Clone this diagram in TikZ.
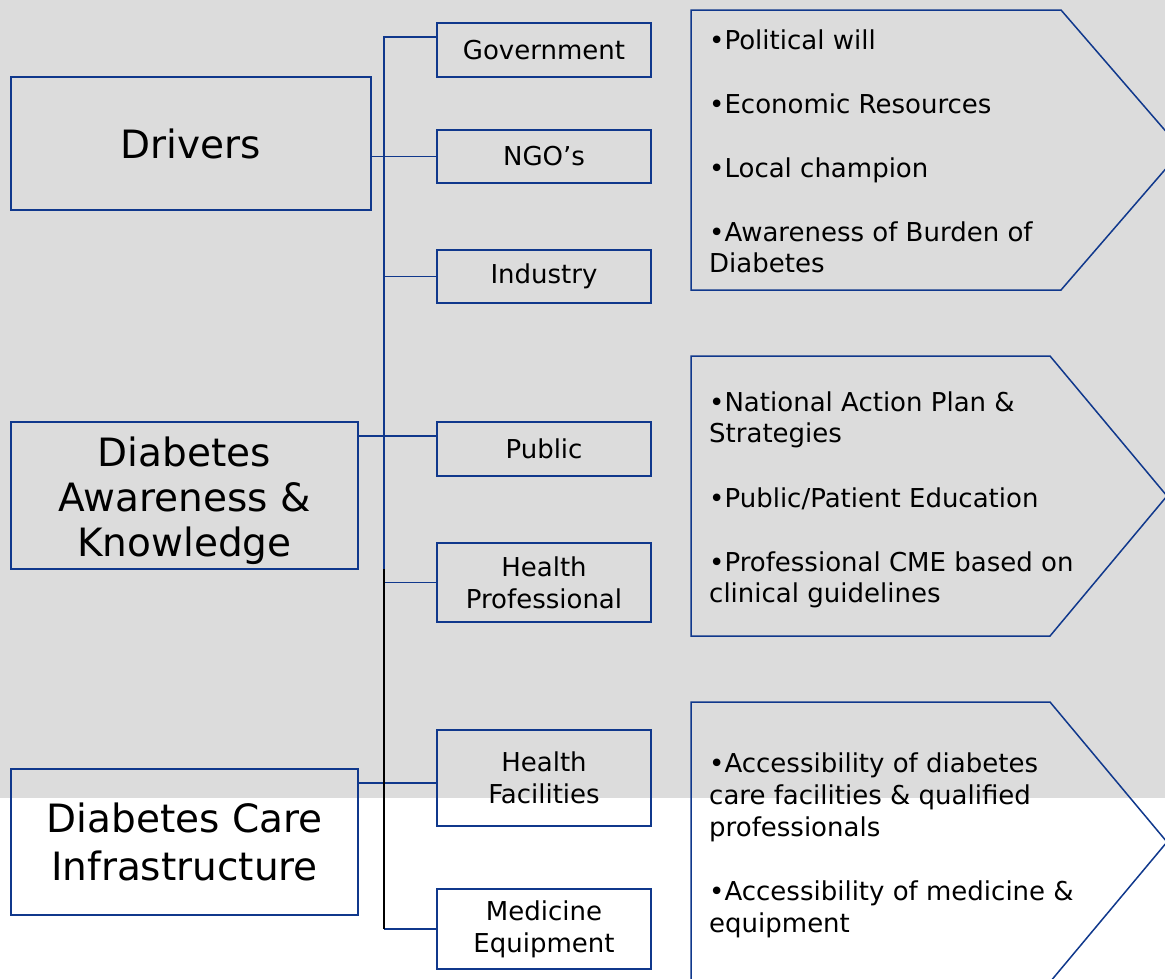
\documentclass[tikz,border=0pt]{standalone}
\usepackage{fontspec}
\setmainfont{DejaVu Sans}
\usetikzlibrary{calc}
\definecolor{navy}{RGB}{16,56,140}
\definecolor{panel}{RGB}{220,220,220}
\begin{document}
\begin{tikzpicture}[x=1pt,y=-1pt,
  catbox/.style={draw=navy,line width=1.8pt,inner sep=0pt,align=center,
    font=\fontsize{39}{46}\selectfont},
  subbox/.style={draw=navy,line width=1.8pt,inner sep=0pt,align=center,
    minimum width=214,font=\fontsize{26}{32}\selectfont},
  link/.style={draw=navy,line width=1.7pt},
  trunk/.style={draw=black,line width=1.7pt},
  chev/.style={draw=navy,line width=1.5pt,line join=miter},
  item/.style={anchor=base west,inner sep=0pt,font=\fontsize{26}{32}\selectfont}]

% background panel and page frame
\fill[panel] (0,0) rectangle (1165,798);
\useasboundingbox (0,0) rectangle (1165,978);
\clip (0,0) rectangle (1165,978);

% main categories
\node[catbox,minimum width=360,minimum height=133] (drv) at (191,143.5) {Drivers};
\node[catbox,minimum width=347,minimum height=147,font=\fontsize{39}{45}\selectfont,
  text height=130pt] (awr) at (184.5,495.5)
  {Diabetes\\Awareness \&\\Knowledge};
\node[catbox,minimum width=347,minimum height=146,font=\fontsize{39}{48}\selectfont] (care) at (184.5,842)
  {Diabetes Care\\Infrastructure};

% stakeholders
\node[subbox,minimum height=54] (gov) at (544,50) {Government};
\node[subbox,minimum height=53] (ngo) at (544,156.5) {NGO’s};
\node[subbox,minimum height=53] (ind) at (544,276.5) {Industry};
\node[subbox,minimum height=54] (pub) at (544,449) {Public};
\node[subbox,minimum height=79] (hp) at (544,582.5) {Health\\Professional};
\node[subbox,minimum height=96] (hf) at (544,778) {Health\\Facilities};
\node[subbox,minimum height=80] (med) at (544,929) {Medicine\\Equipment};

% junction points on the trunk
\coordinate (j1) at (384,37);
\coordinate (j2) at (384,263);
\coordinate (j3) at (384,569);
\coordinate (p2) at (0,436);
\coordinate (p3) at (0,783);

% connectors
\draw[link] (gov.west |- j1) -- (j1) -- (j1 |- ind.west) -- (ind.west);
\draw[link] (drv.east |- ngo.west) -- (ngo.west);
\draw[link] (j2) -- (j2 |- hp.west) -- (hp.west);
\draw[link] (awr.east |- p2) -- (pub.west |- p2);
\draw[link] (care.east |- p3) -- (hf.west |- p3);
\draw[link] (j3 |- med.west) -- (med.west);
\draw[trunk] (j3) -- (j3 |- med.west);

% outcome chevrons
\draw[chev] (691,10) -- (1061,10) -- (1182,150) -- (1061,290) -- (691,290) -- cycle;
\draw[chev] (691,356) -- (1050,356) -- (1167,496) -- (1050,636) -- (691,636) -- cycle;
\draw[chev] (691,702) -- (1050,702) -- (1167,842) -- (1050,982) -- (691,982) -- cycle;

% chevron texts
\node[item] (a1) at (709,49) {•Political will};
\node[item] (a2) at (709,113) {•Economic Resources};
\node[item] (a3) at (709,177) {•Local champion};
\node[item] (a4) at (709,241) {•Awareness of Burden of};
\node[item] (a5) at (709,272) {Diabetes};

\node[item] (b1) at (709,411) {•National Action Plan \&};
\node[item] (b2) at (709,442) {Strategies};
\node[item] (b3) at (709,507) {•Public/Patient Education};
\node[item] (b4) at (709,571) {•Professional CME based on};
\node[item] (b5) at (709,602) {clinical guidelines};

\node[item] (c1) at (709,772) {•Accessibility of diabetes};
\node[item] (c2) at (709,804) {care facilities \& qualified};
\node[item] (c3) at (709,836) {professionals};
\node[item] (c4) at (709,900) {•Accessibility of medicine \&};
\node[item] (c5) at (709,932) {equipment};
\end{tikzpicture}
\end{document}
